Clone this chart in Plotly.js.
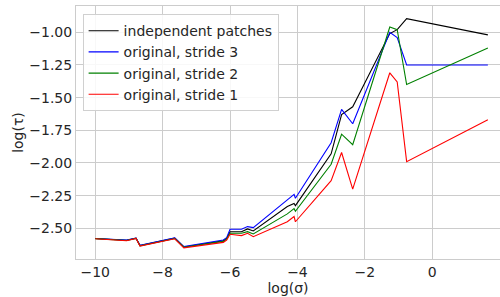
<!DOCTYPE html>
<html>
<head>
<meta charset="utf-8">
<script src="https://cdn.plot.ly/plotly-3.0.1.min.js"></script>
<style>html,body{margin:0;padding:0;background:#fff;}#chart{width:500px;height:297px;}</style>
</head>
<body>
<div id="chart"></div>
<script>
const logSigma = [-10, -9.5, -9.07, -8.79, -8.67, -7.64, -7.37, -6.20, -6.10, -6.0, -5.66, -5.48, -5.31, -4.30, -4.10, -4.06, -3.0, -2.69, -2.36, -1.26, -1.04, -0.76, 1.65];
const independentPatches = [-2.578, -2.586, -2.592, -2.576, -2.632, -2.576, -2.643, -2.595, -2.578, -2.526, -2.526, -2.505, -2.52, -2.334, -2.31, -2.327, -1.93, -1.63, -1.57, -1.01, -0.98, -0.896, -1.02];
const stride3 = [-2.578, -2.585, -2.59, -2.575, -2.63, -2.574, -2.64, -2.59, -2.572, -2.507, -2.507, -2.487, -2.495, -2.283, -2.24, -2.27, -1.845, -1.59, -1.70, -1.00, -1.04, -1.25, -1.25];
const stride2 = [-2.579, -2.587, -2.593, -2.577, -2.634, -2.578, -2.645, -2.6, -2.582, -2.538, -2.538, -2.526, -2.543, -2.39, -2.35, -2.37, -2.01, -1.78, -1.86, -0.96, -0.98, -1.40, -1.12];
const stride1 = [-2.58, -2.588, -2.595, -2.578, -2.636, -2.58, -2.65, -2.608, -2.59, -2.546, -2.556, -2.538, -2.564, -2.45, -2.41, -2.45, -2.135, -1.92, -2.2, -1.31, -1.38, -1.99, -1.67];
const seriesNames = ["independent patches", "original, stride 3", "original, stride 2", "original, stride 1"];
const seriesColors = ["#000000", "#0000ff", "#008000", "#ff0000"];
const xTicks = [-10, -8, -6, -4, -2, 0, 2];
const yTicks = [-1.0, -1.25, -1.5, -1.75, -2.0, -2.25, -2.5];

const allY = [independentPatches, stride3, stride2, stride1];
const traces = allY.map((ys, i) => ({
  x: logSigma, y: ys, type: 'scatter', mode: 'lines', name: seriesNames[i],
  line: {color: seriesColors[i], width: 1.1}
}));

const font = {family: '"DejaVu Sans", Verdana, sans-serif', size: 14, color: '#262626'};
const layout = {
  width: 500, height: 297,
  margin: {l: 76, r: 0, t: 6, b: 38},
  paper_bgcolor: '#ffffff', plot_bgcolor: '#ffffff',
  font: font,
  showlegend: true,
  legend: {x: 0.0156, y: 0.968, xanchor: 'left', yanchor: 'top',
    bgcolor: 'rgba(255,255,255,0.85)', bordercolor: '#d0d0d0', borderwidth: 1,
    font: font, tracegroupgap: 0, itemwidth: 30},
  xaxis: {
    range: [-10.57, 2.01], tickvals: xTicks, ticktext: xTicks.map(v => (v < 0 ? '\u2212' + Math.abs(v) : String(v))),
    showgrid: true, gridcolor: '#cccccc', gridwidth: 1, zeroline: false,
    showline: true, linecolor: '#cccccc', linewidth: 1, mirror: true,
    ticks: '', automargin: false, tickfont: font,
    title: {text: 'log(\u03c3)', font: font, standoff: 2}
  },
  yaxis: {
    range: [-2.735, -0.799], tickvals: yTicks, ticktext: yTicks.map(v => '\u2212' + Math.abs(v).toFixed(2)),
    showgrid: true, gridcolor: '#cccccc', gridwidth: 1, zeroline: false,
    showline: true, linecolor: '#cccccc', linewidth: 1, mirror: true,
    ticks: '', automargin: false, tickfont: font,
    title: {text: 'log(\u03c4)', font: font, standoff: 2}
  }
};
Plotly.newPlot('chart', traces, layout, {displayModeBar: false, staticPlot: true});
</script>
</body>
</html>
